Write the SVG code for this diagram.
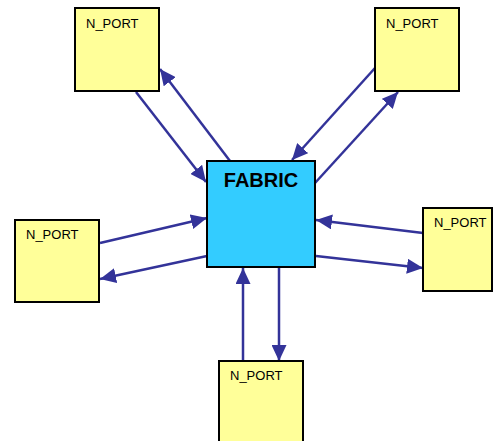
<svg xmlns="http://www.w3.org/2000/svg" width="493" height="441" viewBox="0 0 493 441">
  <style>
    .port { fill: #FFFF99; stroke: #000; stroke-width: 2; }
    .fabric { fill: #33CCFF; stroke: #000; stroke-width: 2; }
    .shadow { fill: #B0B0B0; }
    .plabel { font-family: "Liberation Sans", Arial, sans-serif; font-size: 13px; fill: #000; }
    .flabel { font-family: "Liberation Sans", Arial, sans-serif; font-size: 20px; font-weight: bold; fill: #000; }
    .link { stroke: #333399; stroke-width: 2.5; fill: none; marker-end: url(#arrow); }
  </style>
  <defs>
    <marker id="arrow" markerUnits="userSpaceOnUse" markerWidth="16" markerHeight="15" refX="16" refY="7.5" orient="auto">
      <path d="M0,0 L16,7.5 L0,15 z" fill="#333399"/>
    </marker>
  </defs>
  <rect width="493" height="441" fill="#FFFFFF"/>

  <g id="connectors">
    <!-- top-left port -->
    <line class="link" x1="136" y1="92" x2="206" y2="182"/>
    <line class="link" x1="230" y1="161" x2="160" y2="69"/>
    <!-- top-right port -->
    <line class="link" x1="375" y1="68" x2="292" y2="160"/>
    <line class="link" x1="315" y1="183" x2="398" y2="92"/>
    <!-- left port -->
    <line class="link" x1="100" y1="243" x2="207" y2="218"/>
    <line class="link" x1="207" y1="256" x2="100" y2="279"/>
    <!-- right port -->
    <line class="link" x1="423" y1="233" x2="316" y2="220"/>
    <line class="link" x1="316" y1="256" x2="423" y2="268"/>
    <!-- bottom port -->
    <line class="link" x1="243" y1="361" x2="243" y2="268"/>
    <line class="link" x1="279" y1="267" x2="279" y2="361"/>
  </g>

  <g id="fabric">
    <rect class="fabric" x="207" y="161" width="108" height="106"/>
    <text class="flabel" x="261" y="187" text-anchor="middle">FABRIC</text>
  </g>

  <g id="port-top-left">
    <rect class="port" x="75" y="8" width="84" height="83"/>
    <text class="plabel" x="86" y="28">N_PORT</text>
  </g>

  <g id="port-top-right">
    <rect class="port" x="375" y="8" width="84" height="83"/>
    <text class="plabel" x="386" y="28">N_PORT</text>
  </g>

  <g id="port-left">
    <rect class="port" x="15" y="220" width="84" height="82"/>
    <text class="plabel" x="26" y="239">N_PORT</text>
  </g>

  <g id="port-right">
    <rect class="port" x="423" y="208" width="69" height="83"/>
    <text class="plabel" x="434" y="227">N_PORT</text>
  </g>

  <g id="port-bottom">
    <rect class="port" x="219" y="361" width="84" height="84"/>
    <text class="plabel" x="230" y="380">N_PORT</text>
  </g>
</svg>
